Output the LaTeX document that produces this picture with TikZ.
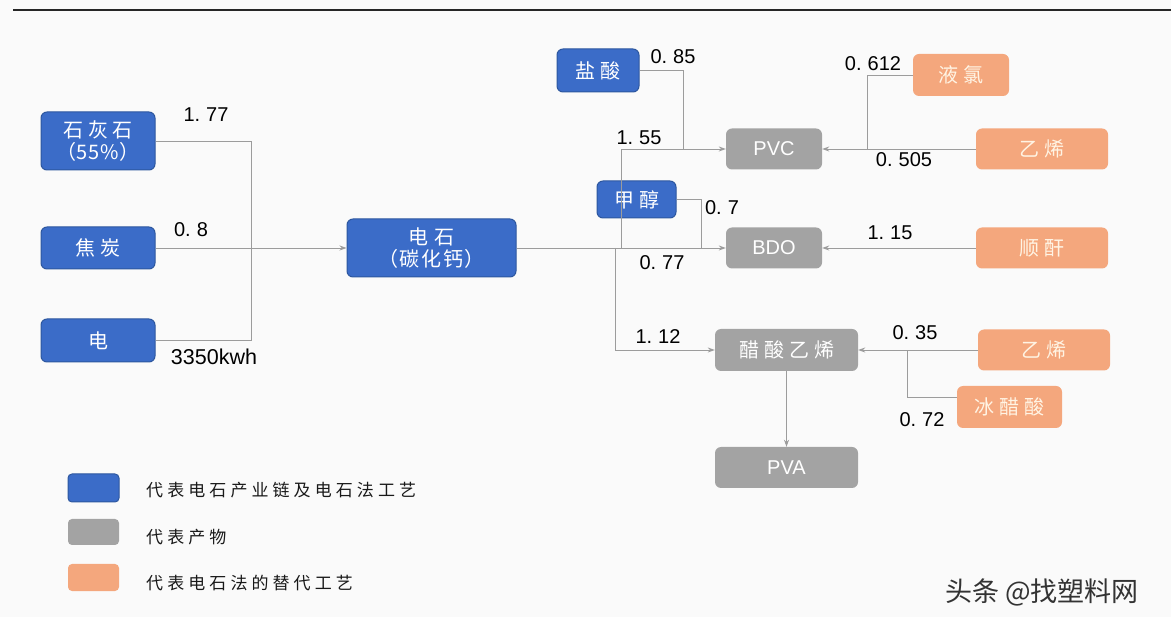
\documentclass[tikz,border=0pt]{standalone}
\usepackage{fontspec}
\setmainfont{Liberation Sans}
\newfontfamily\cjk{Noto Sans CJK SC}
\newfontfamily\cjkn[LetterSpace=8]{Noto Sans CJK SC}
\newfontfamily\cjkw[LetterSpace=25]{Noto Sans CJK SC}
\newfontfamily\cjkl[LetterSpace=24]{Noto Sans CJK SC}
\newfontfamily\cjkm[LetterSpace=4]{Noto Sans CJK SC}
\usetikzlibrary{arrows.meta}
\definecolor{bluefill}{HTML}{3B6CC8}
\definecolor{blueedge}{HTML}{2D579F}
\definecolor{grayfill}{HTML}{A3A3A3}
\definecolor{orangefill}{HTML}{F4A77D}
\definecolor{orangetext}{HTML}{FFF4E4}
\definecolor{linegray}{HTML}{9C9C9C}
\definecolor{bg}{HTML}{FAFAFA}
\newcommand\dd{\hspace{0.3em}}
\tikzset{
  box/.style={rounded corners=6pt, inner sep=0pt, align=center, text=white},
  bluebox/.style={box, fill=bluefill, draw=blueedge, line width=1pt, font=\cjkw\fontsize{20}{24}\selectfont},
  graybox/.style={box, fill=grayfill, font=\fontsize{20}{24}\selectfont},
  orangebox/.style={box, fill=orangefill, text=orangetext, font=\cjkw\fontsize{20}{24}\selectfont},
  conn/.style={draw=linegray, line width=0.9pt},
  arr/.style={conn, -{Stealth[length=7pt,width=5pt]}},
  num/.style={inner sep=0pt, font=\fontsize{20}{24}\selectfont, text=black},
  legbox/.style={rounded corners=4pt, minimum width=51pt, inner sep=0pt},
  legtext/.style={anchor=west, inner sep=0pt, font=\cjkl\fontsize{17}{20}\selectfont, text=black!90}
}
\begin{document}
\begin{tikzpicture}[x=1pt,y=-1pt]
\useasboundingbox (0,0) rectangle (1171,617);
\fill[bg] (0,0) rectangle (1171,617);
\draw[line width=2pt, black!85] (13,10) -- (1171,10);

% left inputs
\node[bluebox, minimum width=114pt, minimum height=58pt] (shs) at (98,141) {石灰石\\[-2pt]{\cjkm（55\%）}};
\node[bluebox, minimum width=114pt, minimum height=42pt] (jt) at (98,248) {焦炭};
\node[bluebox, minimum width=114pt, minimum height=43pt] (dian) at (98,340.5) {电};
\node[bluebox, minimum width=169pt, minimum height=58pt] (ds) at (431.5,248) {电\hspace{6pt}石\\[-2pt]{\cjkn（碳化钙）}};

% top blue
\node[bluebox, minimum width=82pt, minimum height=43pt] (ys) at (598,70.5) {盐酸};
\node[bluebox, minimum width=79pt, minimum height=37pt] (jc) at (636.5,199.5) {甲醇};

% products
\node[graybox, minimum width=96pt, minimum height=41pt] (pvc) at (774,149) {PVC};
\node[graybox, minimum width=96pt, minimum height=41pt] (bdo) at (774,248) {BDO};
\node[graybox, minimum width=143pt, minimum height=42pt, font=\cjkw\fontsize{20}{24}\selectfont] (cs) at (786.5,350) {醋酸乙烯};
\node[graybox, minimum width=143pt, minimum height=41pt] (pva) at (786.5,467.5) {PVA};

% alternatives
\node[orangebox, minimum width=96pt, minimum height=42pt] (yl) at (961,75) {液氯};
\node[orangebox, minimum width=132pt, minimum height=41pt] (yx1) at (1042,149) {乙烯};
\node[orangebox, minimum width=132pt, minimum height=41pt] (sg) at (1042,248) {顺酐};
\node[orangebox, minimum width=132pt, minimum height=41pt] (yx2) at (1044,350) {乙烯};
\node[orangebox, minimum width=105pt, minimum height=42pt] (bcs) at (1009.5,407) {冰醋酸};

% junction coordinates
\coordinate (j1) at (251,248);
\coordinate (v1) at (621,248);
\coordinate (j2) at (683,149);
\coordinate (j3) at (701,248);
\coordinate (v2) at (615,248);
\coordinate (j4) at (867,149);
\coordinate (j5) at (907,350);

% connectors left
\draw[conn] (shs.east) -| (j1);
\draw[conn] (dian.east) -| (j1);
\draw[arr] (jt.east) -- (ds.west);

% main
\draw[arr] (ds.east) -- (bdo.west);
\draw[arr] (v1) |- (pvc.west);
\draw[conn] (ys.east) -| (j2);
\draw[conn] (jc.east) -| (j3);
\draw[arr] (v2) |- (cs.west);
\draw[arr] (cs.south) -- (pva.north);

% right
\draw[conn] (yl.west) -| (j4);
\draw[arr] (yx1.west) -- (pvc.east);
\draw[arr] (sg.west) -- (bdo.east);
\draw[arr] (yx2.west) -- (cs.east);
\draw[conn] ([yshift=10pt]bcs.west) -| (j5);

% numbers
\node[num] (n177) at (206,115) {1.\dd 77};
\node[num] (n08) at (191,230) {0.\dd 8};
\node[num, font=\fontsize{21.5}{24}\selectfont] (n3350) at (214,357) {3350kwh};
\node[num] (n085) at (673,57) {0.\dd 85};
\node[num] (n155) at (639,138) {1.\dd 55};
\node[num] (n07) at (722,208) {0.\dd 7};
\node[num] (n077) at (662,263) {0.\dd 77};
\node[num] (n112) at (658,337) {1.\dd 12};
\node[num] (n0612) at (873,64) {0.\dd 612};
\node[num] (n0505) at (904,160) {0.\dd 505};
\node[num] (n115) at (890,233) {1.\dd 15};
\node[num] (n035) at (915,333) {0.\dd 35};
\node[num] (n072) at (922,420) {0.\dd 72};

% legend
\node[legbox, fill=bluefill, draw=blueedge, line width=1pt, minimum height=28pt] (lg1) at (93.5,488) {};
\node[legbox, fill=grayfill, minimum height=26pt] (lg2) at (93.5,532) {};
\node[legbox, fill=orangefill, minimum height=27pt] (lg3) at (93.5,577.5) {};
\node[legtext] (lt1) at (146,490) {代表电石产业链及电石法工艺};
\node[legtext] (lt2) at (146,537) {代表产物};
\node[legtext] (lt3) at (146,583) {代表电石法的替代工艺};

% watermark
\node[inner sep=0pt, anchor=west, font=\cjk\fontsize{27}{30}\selectfont, text=black!80] (wm) at (945,592) {头条\hspace{6pt}@找塑料网};
\end{tikzpicture}
\end{document}
